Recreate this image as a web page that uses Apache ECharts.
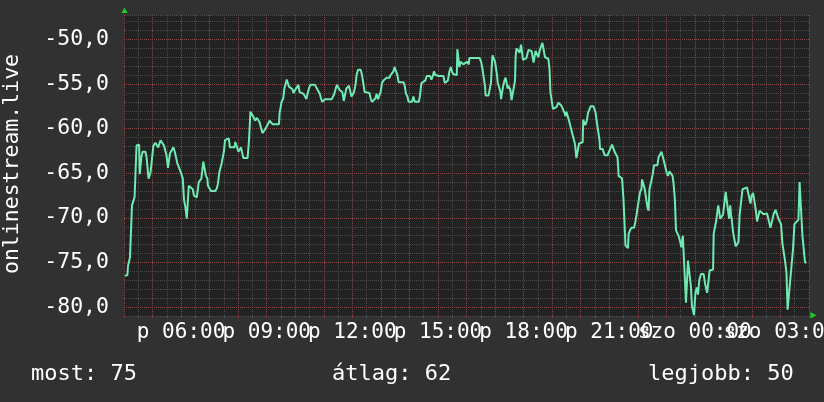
<!DOCTYPE html>
<html>
<head>
<meta charset="utf-8">
<script src="https://cdn.jsdelivr.net/npm/echarts@6/dist/echarts.min.js"></script>
<style>
html,body{margin:0;padding:0;background:#313131;}
#chart{width:824px;height:402px;}
</style>
</head>
<body>
<div id="chart"></div>
<script>
// hours since Friday 00:00
var times = [4.03,4.12,4.14,4.19,4.21,4.26,4.28,4.35,4.37,4.42,4.44,4.53,4.55,4.58,4.61,4.65,4.75,4.79,4.83,4.86,4.91,4.93,4.98,5.03,5.10,5.17,5.20,5.26,5.28,5.35,5.40,5.45,5.49,5.54,5.59,5.61,5.67,5.73,5.78,5.82,5.87,5.94,5.99,6.03,6.06,6.10,6.15,6.20,6.24,6.27,6.34,6.41,6.45,6.55,6.59,6.62,6.66,6.71,6.76,6.78,6.84,6.87,6.92,6.94,7.01,7.05,7.20,7.25,7.29,7.34,7.39,7.42,7.46,7.50,7.54,7.60,7.67,7.71,7.87,7.90,7.97,8.01,8.05,8.10,8.15,8.18,8.33,8.38,8.43,8.50,8.54,8.59,8.66,8.71,8.75,8.80,8.85,8.89,8.94,9.01,9.06,9.10,9.15,9.20,9.27,9.43,9.45,9.52,9.58,9.62,9.66,9.70,9.76,9.78,9.85,9.90,9.94,9.99,10.06,10.11,10.15,10.22,10.29,10.34,10.39,10.43,10.48,10.53,10.69,10.74,10.79,10.86,10.90,10.95,11.04,11.28,11.32,11.37,11.42,11.46,11.51,11.56,11.60,11.65,11.70,11.74,11.79,11.84,11.88,11.93,11.97,12.01,12.06,12.11,12.15,12.20,12.29,12.34,12.39,12.43,12.60,12.64,12.69,12.76,12.81,12.85,12.90,12.95,12.99,13.04,13.09,13.16,13.20,13.30,13.34,13.39,13.44,13.48,13.53,13.58,13.62,13.79,13.83,13.88,13.93,13.97,14.09,14.14,14.19,14.33,14.37,14.42,14.47,14.56,14.61,14.72,14.77,14.82,14.86,14.91,15.03,15.07,15.19,15.24,15.31,15.35,15.40,15.45,15.49,15.54,15.61,15.66,15.68,15.73,15.75,15.80,15.84,15.89,15.96,16.01,16.05,16.08,16.10,16.46,16.51,16.56,16.60,16.65,16.67,16.77,16.81,16.86,16.88,16.91,16.98,17.00,17.05,17.07,17.09,17.16,17.19,17.21,17.26,17.28,17.33,17.37,17.42,17.44,17.47,17.51,17.54,17.58,17.65,17.70,17.72,17.75,17.82,17.86,17.91,17.96,17.98,18.05,18.10,18.14,18.17,18.24,18.28,18.33,18.35,18.40,18.42,18.47,18.52,18.54,18.59,18.66,18.73,18.75,18.80,18.87,18.91,18.94,18.98,19.03,19.10,19.15,19.22,19.29,19.32,19.38,19.43,19.47,19.50,19.55,19.59,19.66,19.71,19.76,19.80,19.85,19.90,19.94,20.01,20.07,20.09,20.14,20.16,20.21,20.26,20.30,20.35,20.45,20.52,20.56,20.61,20.66,20.68,20.77,20.84,20.94,20.98,21.03,21.10,21.15,21.19,21.24,21.29,21.31,21.33,21.40,21.45,21.50,21.52,21.57,21.66,21.68,21.73,21.78,21.87,21.92,21.96,22.03,22.08,22.13,22.15,22.22,22.24,22.29,22.34,22.38,22.41,22.48,22.52,22.57,22.69,22.73,22.78,22.83,22.87,22.90,22.97,23.01,23.06,23.11,23.18,23.22,23.25,23.30,23.34,23.39,23.43,23.48,23.53,23.58,23.65,23.69,23.74,23.76,23.83,23.86,23.90,23.97,24.02,24.07,24.11,24.16,24.22,24.31,24.36,24.40,24.43,24.47,24.52,24.57,24.64,24.66,24.73,24.75,24.82,24.87,24.89,24.94,24.99,25.03,25.08,25.15,25.20,25.24,25.27,25.29,25.34,25.38,25.43,25.48,25.53,25.57,25.62,25.67,25.83,25.90,25.95,25.99,26.04,26.09,26.13,26.18,26.23,26.27,26.32,26.41,26.46,26.53,26.60,26.65,26.72,26.76,26.83,26.88,26.93,26.97,27.02,27.07,27.11,27.16,27.21,27.25,27.30,27.35,27.39,27.44,27.49,27.53,27.63,27.67,27.72,27.77,27.81,27.86,27.91];
var values = [-76.5,-76.4,-75.4,-75.3,-74.4,-74.4,-68.6,-68.6,-67.7,-67.6,-61.9,-61.8,-65.1,-65.1,-63.2,-62.6,-62.6,-63.2,-63.2,-65.6,-65.6,-64.9,-64.9,-61.9,-61.6,-61.6,-62.1,-62.1,-61.3,-61.4,-61.9,-61.9,-63.0,-64.4,-64.3,-62.8,-62.6,-62.1,-62.6,-62.6,-63.9,-63.9,-64.9,-65.1,-65.6,-67.9,-68.8,-70.1,-70.1,-66.4,-66.4,-66.8,-67.5,-67.7,-67.7,-66.0,-65.8,-65.6,-65.6,-63.7,-63.7,-65.3,-65.6,-66.4,-66.6,-67.0,-67.0,-66.7,-66.2,-64.9,-64.7,-63.9,-63.8,-62.6,-61.3,-61.1,-61.1,-62.1,-62.1,-61.5,-61.4,-62.6,-62.7,-62.1,-62.2,-63.3,-63.3,-61.3,-58.1,-58.1,-58.7,-59.1,-58.8,-58.7,-59.3,-59.9,-60.5,-60.3,-60.1,-59.9,-59.4,-59.1,-59.3,-59.5,-59.4,-59.5,-58.3,-57.0,-56.6,-55.5,-55.4,-54.5,-54.5,-55.3,-55.3,-55.6,-56.0,-55.7,-55.6,-55.1,-55.9,-56.1,-56.1,-56.3,-56.7,-56.1,-55.5,-55.1,-55.1,-55.4,-55.7,-56.1,-56.6,-57.0,-56.7,-56.7,-56.6,-56.1,-55.5,-55.1,-55.2,-55.7,-55.5,-55.9,-56.9,-56.9,-55.5,-55.3,-55.2,-55.1,-56.4,-56.4,-55.9,-55.1,-54.0,-53.4,-53.4,-54.0,-54.2,-55.9,-56.0,-56.6,-57.0,-57.0,-56.6,-56.1,-56.7,-56.7,-55.9,-54.9,-54.6,-54.6,-54.3,-54.3,-54.0,-54.0,-53.6,-53.1,-53.1,-54.0,-54.8,-54.8,-55.1,-56.1,-56.4,-57.0,-57.0,-56.4,-57.0,-57.0,-56.3,-54.9,-54.8,-54.6,-54.1,-54.1,-54.5,-54.1,-53.6,-54.0,-54.1,-54.0,-54.1,-54.9,-55.1,-54.6,-53.6,-53.1,-53.6,-53.9,-54.1,-54.0,-51.1,-51.1,-53.1,-52.5,-52.4,-52.8,-52.8,-52.5,-52.3,-52.8,-52.1,-52.1,-52.5,-53.3,-54.2,-55.3,-56.3,-56.3,-56.1,-54.8,-53.3,-51.8,-51.8,-52.5,-52.6,-54.0,-54.8,-54.8,-55.9,-56.7,-56.7,-55.3,-54.6,-54.3,-54.4,-55.5,-55.2,-55.2,-55.7,-56.8,-56.8,-54.6,-52.0,-51.0,-51.0,-51.5,-50.6,-50.6,-52.3,-52.3,-52.1,-52.0,-51.2,-51.2,-51.3,-51.4,-52.6,-52.6,-51.3,-51.2,-52.0,-51.6,-51.0,-50.4,-50.4,-52.0,-52.2,-52.2,-53.4,-55.9,-56.1,-57.8,-57.8,-57.6,-57.1,-56.9,-57.4,-57.4,-58.2,-58.6,-58.1,-58.2,-59.1,-59.3,-60.6,-60.6,-61.7,-63.3,-63.3,-61.7,-61.6,-61.5,-59.0,-59.0,-59.6,-59.2,-58.2,-58.2,-57.5,-57.5,-58.2,-59.1,-59.1,-61.3,-62.3,-62.3,-63.0,-63.0,-62.8,-62.3,-61.8,-61.8,-62.6,-62.9,-63.2,-64.1,-65.3,-65.3,-65.6,-67.9,-69.4,-73.1,-73.4,-71.8,-71.4,-71.1,-71.1,-70.4,-69.6,-69.4,-67.1,-66.8,-65.7,-65.7,-66.7,-66.8,-68.8,-69.2,-66.8,-66.7,-65.2,-64.1,-64.1,-63.2,-62.9,-62.6,-62.6,-63.4,-63.4,-64.9,-65.3,-64.8,-64.9,-65.3,-66.0,-67.9,-71.4,-71.6,-72.0,-72.6,-73.3,-72.0,-72.1,-79.5,-79.5,-74.8,-74.8,-77.6,-79.9,-80.9,-78.4,-77.8,-78.6,-76.9,-76.3,-76.3,-77.4,-77.6,-78.4,-78.4,-75.9,-75.8,-75.8,-71.8,-71.7,-70.3,-68.6,-68.4,-70.1,-70.1,-69.6,-69.4,-67.1,-67.1,-70.1,-68.6,-69.7,-70.1,-71.6,-71.7,-73.2,-73.3,-72.7,-69.6,-69.6,-66.8,-66.6,-66.6,-68.4,-67.5,-67.2,-67.3,-69.0,-70.4,-70.4,-69.2,-69.4,-69.6,-69.7,-69.5,-69.6,-71.1,-71.1,-69.6,-69.1,-69.1,-70.1,-70.1,-70.7,-72.9,-72.9,-74.8,-76.1,-80.3,-80.3,-76.7,-76.7,-73.5,-70.7,-70.5,-70.2,-66.0,-66.0,-72.0,-72.1,-75.0,-75.0];

var xLabelHoursA = [6, 12, 18, 24];
var xLabelHoursB = [9, 15, 21, 27];
var yMajorTicks = [-80, -75, -70, -65, -60, -55, -50];
var yTitle = 'onlinestream.live';
var summaryTexts = ['most: 75', 'átlag: 62', 'legjobb: 50'];

var FONT = '"DejaVu Sans Mono", monospace';
var minorColor = '#4b4b4b';
var majorColor = 'rgba(255,60,60,0.36)';

function pad(n){ return (n < 10 ? '0' : '') + n; }
function fmtHour(h){
  if (h < 24) return 'p ' + pad(h) + ':00';
  return 'szo ' + pad(h - 24) + ':00';
}

var data = times.map(function(t, i){ return [t, values[i]]; });

function labelAxis(vals){
  return {type:'value', min:4, max:28, interval:1, position:'bottom', offset:0,
    axisLine:{show:false}, axisTick:{show:false}, splitLine:{show:false},
    axisLabel:{show:true, customValues:vals, formatter:function(v){return fmtHour(v);},
      color:'#ffffff', fontFamily:FONT, fontSize:21, margin:6, hideOverlap:false,
      showMinLabel:true, showMaxLabel:true}};
}

var chart = echarts.init(document.getElementById('chart'), null, {renderer:'canvas'});
var option = {
  backgroundColor: '#313131',
  animation: false,
  grid: {left:124, right:15, top:15, bottom:86, show:true, backgroundColor:'#222222', borderWidth:0,
         containLabel:false, outerBoundsMode:'none'},
  xAxis: [
    {type:'value', min:4, max:28, interval:0.5, position:'bottom',
     axisLine:{show:false}, axisTick:{show:true, length:2, lineStyle:{color:'#555'}}, axisLabel:{show:false},
     splitLine:{show:true, lineStyle:{color:minorColor, type:[1,1], width:1}}},
    {type:'value', min:4, max:28, interval:1, position:'bottom',
     axisLine:{show:false}, axisTick:{show:true, length:2, lineStyle:{color:'#8a3030'}}, axisLabel:{show:false},
     splitLine:{show:true, lineStyle:{color:majorColor, type:[1,1], width:1}}},
    labelAxis(xLabelHoursA),
    labelAxis(xLabelHoursB)
  ],
  yAxis: [
    {type:'value', min:-81, max:-47.27, interval:1, position:'left',
     axisLine:{show:false}, axisTick:{show:false}, axisLabel:{show:false},
     splitLine:{show:true, lineStyle:{color:minorColor, type:[1,1], width:1}}},
    {type:'value', min:-81, max:-47.27, position:'left', offset:0,
     axisLine:{show:false}, axisTick:{show:false, customValues:yMajorTicks},
     axisLabel:{show:true, customValues:yMajorTicks, formatter:function(v){return v.toFixed(1).replace('.', ',');},
       color:'#ffffff', fontFamily:FONT, fontSize:21.5, margin:15, padding:[5,0,0,0], hideOverlap:false,
       showMinLabel:true, showMaxLabel:true},
     splitLine:{show:true, lineStyle:{color:majorColor, type:[1,1], width:1}}}
  ],
  series: [{
    type:'line', xAxisIndex:0, yAxisIndex:0, data:data, showSymbol:false,
    lineStyle:{color:'#6feab3', width:2}, itemStyle:{color:'#6feab3'}, z:5
  }],
  graphic: [
    {type:'text', x:12, y:164, rotation:Math.PI/2,
     style:{text:yTitle, fill:'#ffffff', font:'21.5px ' + FONT, align:'center', verticalAlign:'middle'}},
    {type:'text', x:31, y:374.5, style:{text:summaryTexts[0], fill:'#ffffff', font:'22px ' + FONT, align:'left', verticalAlign:'middle'}},
    {type:'text', x:332, y:374.5, style:{text:summaryTexts[1], fill:'#ffffff', font:'22px ' + FONT, align:'left', verticalAlign:'middle'}},
    {type:'text', x:648, y:374.5, style:{text:summaryTexts[2], fill:'#ffffff', font:'22px ' + FONT, align:'left', verticalAlign:'middle'}},
    {type:'polygon', shape:{points:[[121.5,13],[127.5,13],[124.5,7.5]]}, style:{fill:'#1ecf1e'}},
    {type:'polygon', shape:{points:[[810.5,312],[810.5,318.5],[816.5,315.2]]}, style:{fill:'#1ecf1e'}}
  ]
};
chart.setOption(option);
</script>
</body>
</html>
